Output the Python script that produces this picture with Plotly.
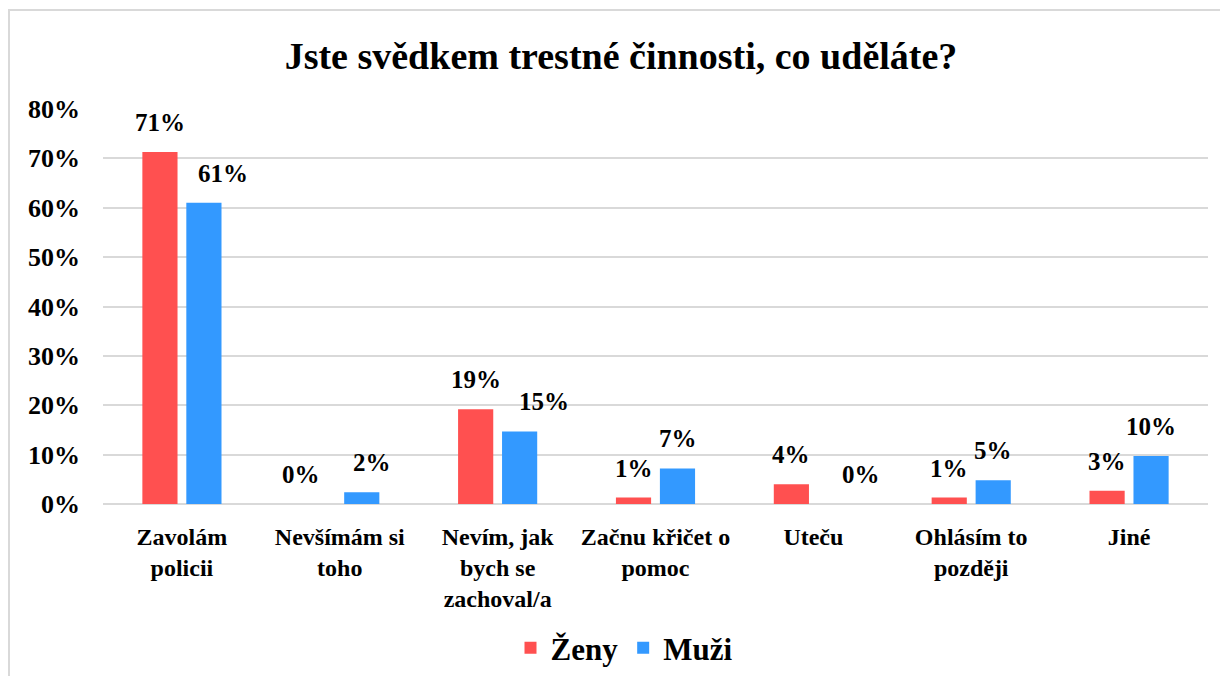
import plotly.graph_objects as go

categories = ["Zavolám<br>policii", "Nevšímám si<br>toho", "Nevím, jak<br>bych se<br>zachoval/a",
              "Začnu křičet o<br>pomoc", "Uteču", "Ohlásím to<br>později", "Jiné"]
zeny = [71.3, 0.0, 19.2, 1.3, 4.0, 1.3, 2.7]
muzi = [61.0, 2.4, 14.7, 7.2, 0.0, 4.8, 9.7]
zeny_labels = ["71%", "0%", "19%", "1%", "4%", "1%", "3%"]
muzi_labels = ["61%", "2%", "15%", "7%", "0%", "5%", "10%"]
y_ticks = [0, 10, 20, 30, 40, 50, 60, 70, 80]

# horizontal nudges (px) of individual data labels, as placed in the original
zeny_nudge = [0, -17, 0, 0, 0, 0, 0]
muzi_nudge = [19, 10, 24, 0, 26, 0, 0]

FONT = "Liberation Serif, Times New Roman, serif"
RED = "#FF5050"
BLUE = "#3399FF"

# page has an 8px body margin: work in figure coordinates (page - 8),
# and keep the figure inside the window so no scrollbars appear
OFF = 8
W, H = 1228 - 2 * OFF, 684 - 2 * OFF
L, T = 103 - OFF, 109 - OFF
R = W - (1208 - OFF)
B = H - (504 - OFF)
pw, ph = W - L - R, H - T - B

def px(x):
    return (x - OFF - L) / pw

def py(y):
    return (H - B - (y - OFF)) / ph

fig = go.Figure()
fig.add_trace(go.Bar(name="<b>Ženy</b>", x=categories, y=zeny, marker_color=RED, marker_line_width=0))
fig.add_trace(go.Bar(name="<b>Muži</b>", x=categories, y=muzi, marker_color=BLUE, marker_line_width=0))

annotations = []
for vals, labs, shift, nudges in ((zeny, zeny_labels, -22, zeny_nudge), (muzi, muzi_labels, 22, muzi_nudge)):
    for cat, v, lab, n in zip(categories, vals, labs, nudges):
        annotations.append(dict(x=cat, y=v, text=f"<b>{lab}</b>", showarrow=False, xref="x", yref="y",
                                yanchor="bottom", xshift=shift + n, yshift=14,
                                font=dict(family=FONT, size=25, color="black")))

shapes = [
    dict(type="line", xref="paper", yref="paper", x0=px(8), x1=px(1228), y0=py(10), y1=py(10),
         line=dict(color="#D9D9D9", width=2)),
    dict(type="line", xref="paper", yref="paper", x0=px(9), x1=px(9), y0=py(10), y1=py(684),
         line=dict(color="#D9D9D9", width=2)),
]

fig.update_layout(
    width=W, height=H,
    margin=dict(l=L, r=R, t=T, b=B, autoexpand=False),
    paper_bgcolor="white", plot_bgcolor="white",
    barmode="group", bargap=0.443, bargroupgap=0.2,
    title=dict(text="<b>Jste svědkem trestné činnosti, co uděláte?</b>", x=px(621), xanchor="center",
               xref="paper", y=1 - (56 - OFF) / H, yanchor="middle",
               font=dict(family=FONT, size=38, color="black")),
    font=dict(family=FONT, color="black"),
    legend=dict(orientation="h", x=px(624), xanchor="center", y=py(648), yanchor="middle",
                font=dict(family=FONT, size=31, color="black"), itemwidth=30, traceorder="normal"),
    annotations=annotations,
    shapes=shapes,
)
fig.update_xaxes(tickfont=dict(family=FONT, size=24, color="black"), showgrid=False,
                 showline=False, ticks="", ticklabelstandoff=16, automargin=False,
                 tickmode="array", tickvals=categories,
                 ticktext=[f"<b>{c}</b>" for c in categories])
fig.update_yaxes(range=[0, 80], tickvals=y_ticks, ticktext=[f"<b>{t}%</b>" for t in y_ticks],
                 tickfont=dict(family=FONT, size=26, color="black"), automargin=False,
                 showgrid=True, gridcolor="#D9D9D9", gridwidth=2,
                 zeroline=True, zerolinecolor="#D9D9D9", zerolinewidth=2,
                 showline=False, ticks="", ticklabelstandoff=22)

fig.write_html("out.html")
